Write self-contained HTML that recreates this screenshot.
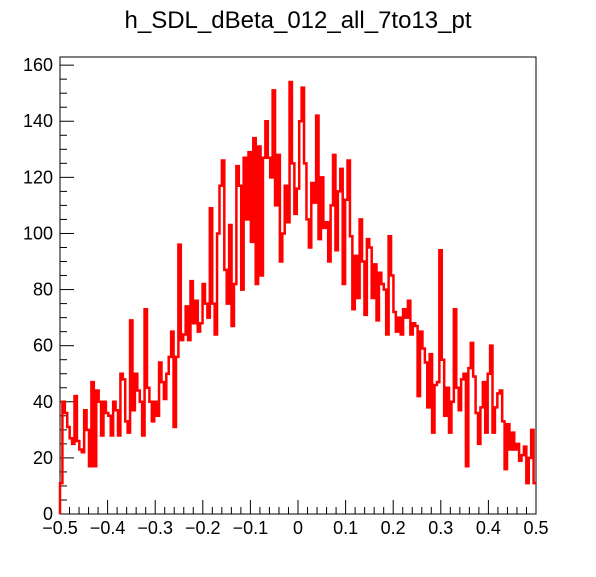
<!DOCTYPE html>
<html><head><meta charset="utf-8"><style>
body{margin:0;background:#fff;}
svg text{font-family:"Liberation Sans",Arial,sans-serif;}
</style></head><body>
<svg width="596" height="572">
<text x="298" y="28" font-size="24" text-anchor="middle">h_SDL_dBeta_012_all_7to13_pt</text>
<rect x="60" y="57" width="476" height="457" fill="none" stroke="#000" stroke-width="1"/>
<g id="axes"></g>
<path id="hist" fill="none" stroke="#ff0000" stroke-width="2.5"/>
</svg>
<script>
const region1 = [11,40,36,31,27,25,42,26,23,22,37,30,17,47,17,44,40,28,40,36,35,28,40,37,28,50,48,33,29,69,37,50,44,40,28,73,45,40,33,40,35,54,47,41,50,56,65,31,56,96];
const region2 = [62,64,74,62,83,68,76,65,68,82,75,70,109,75,64,100,117,126,87,75,103,67,82,124,117,80,127,105,129,97,134,82,131,85,127,140,127,120,151,110,128,90,100,117,104];
const region3 = [154,125,107,116,140,152,125,105,95,118,111,142,98,120,102,104,90,110,128,94,115,123,82,112,126,99,73,92,77,105,90,71,98,95,77,89,69,86,82,80,64,99,85,72,65,70,64,73,70,76,64,68];
const region4 = [67,42,65,59,54,38,57,29,46,47,94,55,35,45,29,40,73,45,37,48,50,17,52,61,49,36,25,38,47,29,50,60,29,38,43,44,33,16,32,23,29,23,25,19,21,24,11,20,30,11];
const counts = region1.concat(region2, region3, region4);
const xTicks = [-0.5,-0.4,-0.3,-0.2,-0.1,0,0.1,0.2,0.3,0.4,0.5];
const yTicks = [0,20,40,60,80,100,120,140,160];
const xMin=-0.5, xMax=0.5, yMin=0, yMax=162.9;
const L=60,R=536,T=57,B=514;
const sx=v=>L+(v-xMin)/(xMax-xMin)*(R-L);
const sy=v=>B-(v-yMin)/(yMax-yMin)*(B-T);
const NS="http://www.w3.org/2000/svg";
const ax=document.getElementById('axes');
function line(x1,y1,x2,y2,name){const l=document.createElementNS(NS,'line');l.setAttribute('x1',x1);l.setAttribute('y1',y1);l.setAttribute('x2',x2);l.setAttribute('y2',y2);l.setAttribute('stroke','#000');l.setAttribute('stroke-width','1');


ax.appendChild(l);}
function text(x,y,s,anchor,name){const t=document.createElementNS(NS,'text');t.setAttribute('x',x);t.setAttribute('y',y);t.setAttribute('font-size','18');t.setAttribute('text-anchor',anchor);t.textContent=s;


ax.appendChild(t);}
// y ticks
for(let v=0;v<=yMax;v+=5){const major=v%20===0;line(L,sy(v),L+(major?14:7),sy(v),'y-tick');}
yTicks.forEach(v=>text(L-7,sy(v)+6,String(v),'end','y-tick-label'));
// x ticks
for(let i=0;i<=50;i++){const v=xMin+i*0.02;const major=i%5===0;line(sx(v),B,sx(v),B-(major?14:7),'x-tick');}
xTicks.forEach(v=>{const s=(v<0?'\u2212':'')+(v===0?'0':Math.abs(v).toFixed(1));text(sx(v),B+20,s,'middle','x-tick-label');});
// histogram
const n=counts.length,w=(xMax-xMin)/n;
let d='M'+sx(xMin)+','+sy(0);
counts.forEach((c,i)=>{const x0=sx(xMin+i*w),x1=sx(xMin+(i+1)*w);d+=' L'+x0+','+sy(c)+' L'+x1+','+sy(c);});
d+=' L'+sx(xMax)+','+sy(counts[n-1]);
document.getElementById('hist').setAttribute('d',d);
</script>
</body></html>
